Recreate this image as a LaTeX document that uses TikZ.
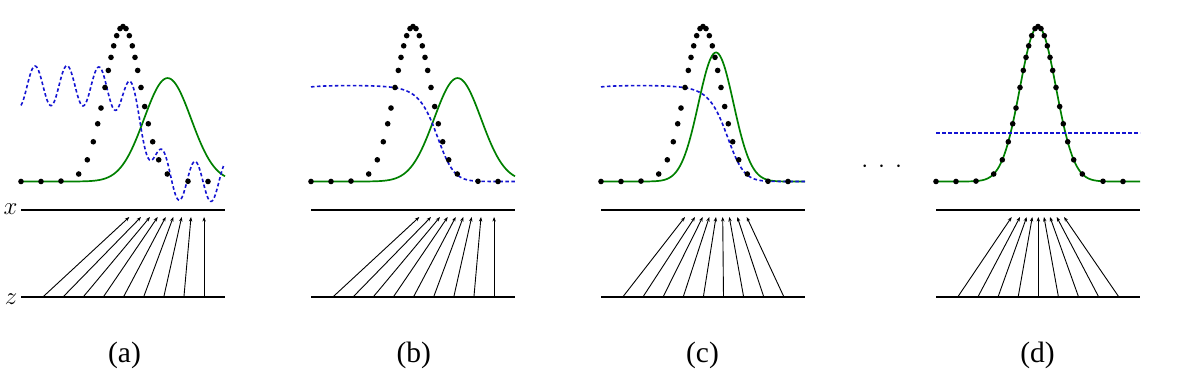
\documentclass[tikz,border=0pt]{standalone}
\usepackage{fontspec}
\newfontfamily\capfont{Liberation Serif}
\usetikzlibrary{arrows.meta}
\definecolor{gcol}{RGB}{0,128,0}
\definecolor{bcol}{RGB}{20,20,210}
\tikzset{
  declare function={
    gs(\x,\m,\s)=exp(max(-0.5*((\x-\m)/\s)^2,-9));
    pd(\x)=155*gs(\x,102,18);
    pg(\x)=103.4*gs(\x,146.6,23.5);
    pgc(\x)=129*gs(\x,115,17.5);
    qq(\x)=max(min(0.5*((\x-102)/18)^2-0.5*((\x-146.6)/23.5)^2,9),-9);
    Dd(\x)=1/(1+0.667*exp(qq(\x)));
  },
  gcurve/.style={gcol, line width=1.7pt},
  bcurve/.style={bcol, line width=1.6pt, dash pattern=on 3.5pt off 2.5pt},
  axisline/.style={line width=2pt},
  maparrow/.style={line width=0.9pt, -{Stealth[length=4.5pt,width=3.4pt]}},
  datadot/.style={fill=black, circle, inner sep=0pt, minimum size=5.6pt},
  caption/.style={font=\capfont\fontsize{29.5}{29.5}\selectfont, anchor=base},
  varlabel/.style={font=\fontsize{36}{36}\selectfont},
}
\begin{document}
\begin{tikzpicture}[x=1pt,y=-1pt]
\useasboundingbox (0,0) rectangle (1179,369);
\def\dotlist{0,20,40,57.7,66.3,72.3,76.7,80,84,87.3,90,92.7,95.7,99,102,105,108.3,111.3,114,116.7,120,123.7,127.3,131.7,137.7,146.3,167,187}
% ---------- panel (a)
\begin{scope}[shift={(21,0)}]
  \draw[gcurve] plot[domain=0:204,samples=160,smooth] (\x,{181.5-pg(\x)});
  \draw[bcurve] plot[domain=0:202.5,samples=220,smooth] (\x,{181.5-96.7*Dd(\x)-20*cos(11.25*(\x-14))});
  \foreach \t [count=\k] in \dotlist \node[datadot] (pa-dot\k) at (\t,{181.5-pd(\t)}) {};
  \coordinate (pa-xl) at (0,210); \coordinate (pa-xr) at (204,210);
  \coordinate (pa-zl) at (0,297.3); \coordinate (pa-zr) at (204,297.3);
  \draw[axisline] (pa-xl) -- (pa-xr);
  \draw[axisline] (pa-zl) -- (pa-zr);
  \foreach \s/\e [count=\k] in {21.5/108.3,41.7/120,61.9/129,82.1/136.7,102.3/144.7,122.5/152.3,142.7/160.7,162.9/170,183.1/183.1}{
    \coordinate (pa-z\k) at (\s,297.3); \coordinate (pa-x\k) at (\e,217);
    \draw[maparrow] (pa-z\k) -- (pa-x\k);}
\end{scope}
% ---------- panel (b)
\begin{scope}[shift={(311,0)}]
  \draw[gcurve] plot[domain=0:204,samples=160,smooth] (\x,{181.5-pg(\x)});
  \draw[bcurve] plot[domain=0:204,samples=160,smooth] (\x,{181.5-96.7*Dd(\x)});
  \foreach \t [count=\k] in \dotlist \node[datadot] (pb-dot\k) at (\t,{181.5-pd(\t)}) {};
  \coordinate (pb-xl) at (0,210); \coordinate (pb-xr) at (204,210);
  \coordinate (pb-zl) at (0,297.3); \coordinate (pb-zr) at (204,297.3);
  \draw[axisline] (pb-xl) -- (pb-xr);
  \draw[axisline] (pb-zl) -- (pb-zr);
  \foreach \s/\e [count=\k] in {21.5/108.3,41.7/120,61.9/129,82.1/136.7,102.3/144.7,122.5/152.3,142.7/160.7,162.9/170,183.1/183.1}{
    \coordinate (pb-z\k) at (\s,297.3); \coordinate (pb-x\k) at (\e,217);
    \draw[maparrow] (pb-z\k) -- (pb-x\k);}
\end{scope}
% ---------- panel (c)
\begin{scope}[shift={(601,0)}]
  \draw[gcurve] plot[domain=0:204,samples=160,smooth] (\x,{181.5-pgc(\x)});
  \draw[bcurve] plot[domain=0:204,samples=160,smooth] (\x,{181.5-96.7*Dd(\x)});
  \foreach \t [count=\k] in \dotlist \node[datadot] (pc-dot\k) at (\t,{181.5-pd(\t)}) {};
  \coordinate (pc-xl) at (0,210); \coordinate (pc-xr) at (204,210);
  \coordinate (pc-zl) at (0,297.3); \coordinate (pc-zr) at (204,297.3);
  \draw[axisline] (pc-xl) -- (pc-xr);
  \draw[axisline] (pc-zl) -- (pc-zr);
  \foreach \s/\e [count=\k] in {21.5/84,41.7/94,61.9/101.7,82.1/108.3,102.3/115,122.5/121.7,142.7/128.3,162.9/136.3,183.1/145.7}{
    \coordinate (pc-z\k) at (\s,297.3); \coordinate (pc-x\k) at (\e,217);
    \draw[maparrow] (pc-z\k) -- (pc-x\k);}
\end{scope}
% ---------- panel (d)
\begin{scope}[shift={(936,0)}]
  \draw[gcurve] plot[domain=0:204,samples=160,smooth] (\x,{181.5-pd(\x)});
  \coordinate (pd-bl) at (0,132.7); \coordinate (pd-br) at (204,132.7);
  \draw[bcurve] (pd-bl) -- (pd-br);
  \foreach \t [count=\k] in \dotlist \node[datadot] (pd-dot\k) at (\t,{181.5-pd(\t)}) {};
  \coordinate (pd-xl) at (0,210); \coordinate (pd-xr) at (204,210);
  \coordinate (pd-zl) at (0,297.3); \coordinate (pd-zr) at (204,297.3);
  \draw[axisline] (pd-xl) -- (pd-xr);
  \draw[axisline] (pd-zl) -- (pd-zr);
  \foreach \s/\e [count=\k] in {21.5/75.7,41.7/84,61.9/90.7,82.1/96.3,102.3/102.3,122.5/108,142.7/114,162.9/120.7,183.1/128}{
    \coordinate (pd-z\k) at (\s,297.3); \coordinate (pd-x\k) at (\e,217);
    \draw[maparrow] (pd-z\k) -- (pd-x\k);}
\end{scope}
% ---------- labels
\node[varlabel] (xlab) at (10.5,209) {$x$};
\node[varlabel] (zlab) at (11,299) {$z$};
\node[font=\fontsize{28}{28}\selectfont] (ellip) at (881.7,167.3) {$\cdot\hspace{4.5pt}\cdot\hspace{4.5pt}\cdot$};
\node[caption] (capa) at (124.5,362.5) {(a)};
\node[caption] (capb) at (413.7,362.5) {(b)};
\node[caption] (capc) at (702.5,362.5) {(c)};
\node[caption] (capd) at (1037.5,362.5) {(d)};
\end{tikzpicture}
\end{document}
